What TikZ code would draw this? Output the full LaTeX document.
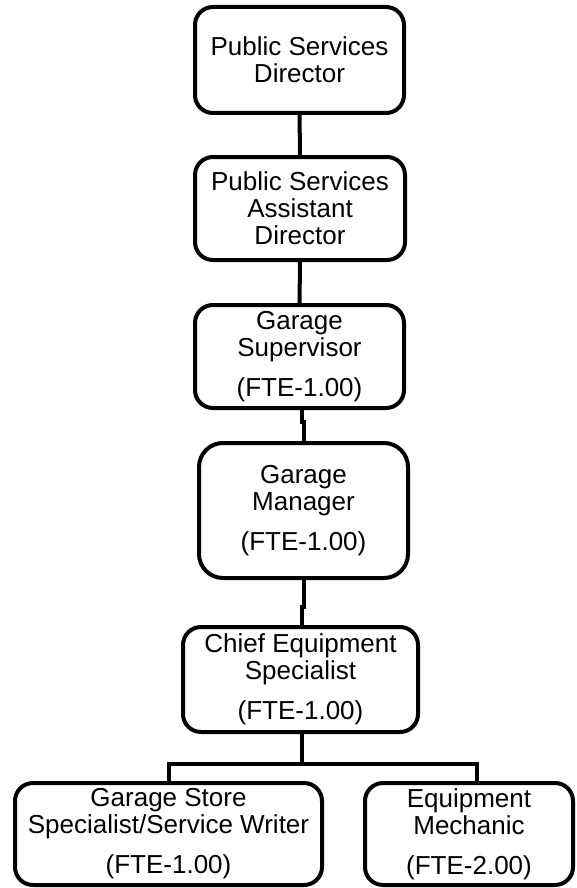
\documentclass[tikz,border=0pt]{standalone}
\usepackage{fontspec}
\setmainfont{Liberation Sans}
\usepackage{tikz}
\tikzstyle{Box}=[draw=black,line width=4pt,rounded corners=18pt,align=center,
inner sep=0pt,font=\fontsize{26}{27}\selectfont]
\tikzstyle{Edge}=[draw=black,line width=4pt]
\begin{document}
\begin{tikzpicture}[x=1pt,y=-1pt]
        \useasboundingbox(0,0)rectangle(576,888);
        \node[Box,minimum width=209pt,minimum height=106pt](dir)at(299.5,60)
            {Public Services\\Director};
        \node[Box,minimum width=210pt,minimum height=103pt](asst)at(300,208.5)
            {Public Services\\Assistant\\Director};
        \node[Box,minimum width=209pt,minimum height=103pt](sup)at(299.5,356.5)
            {Garage\\Supervisor\\[13pt](FTE-1.00)};
        \node[Box,rounded corners=24pt,minimum width=209pt,minimum height=135pt](mgr)at(303.5,510.5)
            {Garage\\Manager\\[13pt](FTE-1.00)};
        \node[Box,minimum width=235pt,minimum height=105pt](chief)at(300.5,679.5)
            {Chief Equipment\\Specialist\\[13pt](FTE-1.00)};
        \node[Box,minimum width=307pt,minimum height=102pt](store)at(168.5,834)
            {Garage Store\\Specialist/Service Writer\\[13pt](FTE-1.00)};
        \node[Box,minimum width=208pt,minimum height=102pt](mech)at(469,834)
            {Equipment\\Mechanic\\[13pt](FTE-2.00)};
        \draw[Edge](dir)--(asst);
        \draw[Edge](asst)--(sup);
        \draw[Edge]([xshift=2.5pt]sup.south)--++(0,12)-|([xshift=0.5pt]mgr.north);
        \draw[Edge]([xshift=0.5pt]mgr.south)--++(0,27)-|([xshift=1.5pt]chief.north);
        \draw[Edge]([xshift=1.5pt]chief.south)--++(0,30)-|(store.north);
        \draw[Edge]([xshift=1.5pt]chief.south)--++(0,30)-|([xshift=8pt]mech.north);
    \end{tikzpicture}
\end{document}
